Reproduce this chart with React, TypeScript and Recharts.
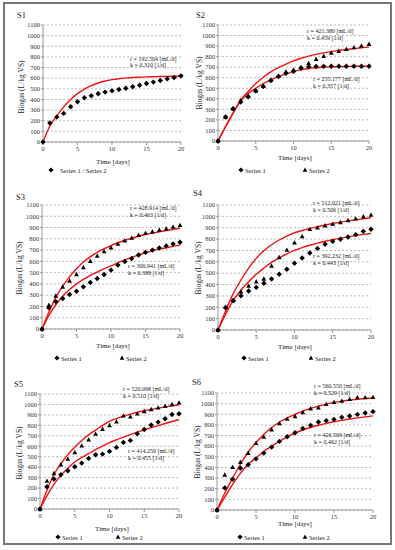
import { ComposedChart, Line, Scatter, XAxis, YAxis, CartesianGrid } from 'recharts';

const days = [0, 1, 2, 3, 4, 5, 6, 7, 8, 9, 10, 11, 12, 13, 14, 15, 16, 17, 18, 19, 20];
const xTicks = [0, 5, 10, 15, 20];
const yTicks = [0, 100, 200, 300, 400, 500, 600, 700, 800, 900, 1000, 1100];

// S1
const s1Series = [0, 178, 234, 269, 331, 378, 416, 434, 453, 469, 481, 494, 506, 519, 534, 550, 563, 578, 594, 606, 622];
const s1Fit = [0, 150, 245, 330, 400, 455, 498, 530, 555, 573, 586, 595, 601, 606, 609, 612, 614, 616, 617, 618, 619];

// S2
const s2Series1 = [0, 228, 306, 370, 420, 475, 516, 573, 611, 642, 660, 692, 703, 706, 708, 709, 709, 709, 709, 709, 709];
const s2Series2 = [0, 228, 307, 385, 427, 478, 520, 578, 615, 655, 675, 697, 737, 775, 805, 835, 852, 870, 886, 902, 918];
const s2Fit1 = [0, 135, 265, 380, 450, 500, 545, 580, 610, 635, 660, 675, 688, 695, 700, 703, 705, 707, 708, 709, 710];
const s2Fit2 = [0, 135, 265, 385, 470, 545, 605, 655, 695, 730, 760, 785, 805, 822, 836, 848, 859, 868, 876, 884, 890];

// S3
const s3Series1 = [0, 187, 243, 270, 306, 335, 374, 412, 448, 484, 522, 567, 599, 626, 656, 680, 700, 718, 736, 754, 769];
const s3Series2 = [0, 211, 294, 374, 427, 484, 546, 602, 647, 688, 721, 754, 783, 807, 831, 849, 864, 878, 890, 905, 920];
const s3Fit1 = [0, 120, 215, 290, 350, 400, 440, 475, 505, 535, 560, 588, 613, 636, 657, 676, 693, 708, 721, 733, 744];
const s3Fit2 = [0, 150, 280, 380, 465, 535, 595, 640, 680, 712, 740, 765, 787, 806, 823, 838, 851, 863, 874, 884, 894];

// S4
const s4Series1 = [0, 196, 258, 302, 343, 375, 411, 449, 490, 534, 587, 633, 677, 718, 754, 780, 798, 818, 839, 868, 886];
const s4Series2 = [0, 200, 264, 337, 387, 425, 450, 563, 639, 704, 768, 824, 886, 900, 918, 933, 947, 965, 979, 997, 1012];
const s4Fit1 = [0, 140, 260, 350, 425, 490, 545, 595, 635, 670, 700, 725, 746, 765, 781, 795, 808, 820, 831, 841, 850];
const s4Fit2 = [0, 170, 320, 440, 545, 630, 698, 750, 792, 827, 856, 876, 894, 910, 924, 937, 949, 960, 970, 979, 988];

// S5
const s5Series1 = [0, 213, 287, 328, 366, 404, 439, 484, 519, 525, 551, 589, 637, 656, 720, 761, 803, 831, 863, 904, 911];
const s5Series2 = [0, 268, 341, 424, 478, 541, 605, 662, 717, 764, 799, 834, 892, 882, 911, 933, 952, 968, 984, 1000, 1016];
const s5Fit1 = [0, 125, 235, 322, 390, 449, 493, 530, 568, 602, 635, 662, 688, 712, 735, 757, 778, 798, 818, 837, 855];
const s5Fit2 = [0, 180, 330, 430, 520, 590, 655, 710, 755, 800, 838, 865, 888, 907, 925, 940, 953, 965, 976, 987, 997];

// S6
const s6Series1 = [0, 208, 289, 393, 425, 481, 535, 591, 645, 689, 726, 767, 796, 827, 840, 852, 871, 884, 899, 912, 925];
const s6Series2 = [0, 330, 402, 450, 535, 629, 686, 755, 814, 855, 880, 918, 953, 962, 994, 1013, 1025, 1041, 1057, 1057, 1060];
const s6Fit1 = [0, 120, 240, 345, 430, 490, 550, 600, 645, 688, 724, 752, 776, 797, 815, 830, 843, 855, 866, 876, 885];
const s6Fit2 = [0, 160, 300, 430, 545, 635, 710, 775, 825, 865, 900, 930, 955, 977, 996, 1012, 1024, 1033, 1041, 1048, 1053];

const FONT = '"Liberation Serif", "Times New Roman", serif';
const RED = '#f01010';

const Diamond = (p: any) => {
  const { cx, cy } = p;
  if (cx == null || cy == null || isNaN(cy)) return null;
  return <path d={`M${cx},${cy - 2.7}L${cx + 2.7},${cy}L${cx},${cy + 2.7}L${cx - 2.7},${cy}Z`} fill="#000" />;
};

const Triangle = (p: any) => {
  const { cx, cy } = p;
  if (cx == null || cy == null || isNaN(cy)) return null;
  return <path d={`M${cx},${cy - 2.6}L${cx + 2.4},${cy + 1.8}L${cx - 2.4},${cy + 1.8}Z`} fill="#000" />;
};

type Box = { l: number; r: number; t: number; b: number };

function Panel({ box, a, b, f1, f2 }: { box: Box; a: number[]; b?: number[]; f1: number[]; f2?: number[] }) {
  const yw = 30;
  const mt = 6;
  const xh = 14;
  const mr = 6;
  const width = yw + (box.r - box.l) + mr;
  const height = mt + (box.b - box.t) + xh;
  const rows = days.map((t, i) => ({ t, a: a[i], b: b ? b[i] : null, f1: f1[i], f2: f2 ? f2[i] : null }));
  const tickStyle = { fontSize: 6.5, fontFamily: FONT, fill: '#333' };
  return (
    <div style={{ position: 'absolute', left: box.l - yw, top: box.t - mt, fontFamily: FONT }}>
      <ComposedChart width={width} height={height} data={rows} margin={{ top: mt, right: mr, left: 0, bottom: 0 }}>
        <CartesianGrid vertical={false} stroke="#bbb" strokeDasharray="2 2" />
        <XAxis
          dataKey="t"
          type="number"
          domain={[0, 20]}
          ticks={xTicks}
          interval={0}
          height={xh}
          tick={tickStyle}
          tickSize={3}
          tickMargin={1}
          stroke="#999"
        />
        <YAxis
          type="number"
          domain={[0, 1100]}
          ticks={yTicks}
          interval={0}
          width={yw}
          tick={tickStyle}
          tickSize={2}
          tickMargin={1}
          stroke="#999"
        />
        <Line dataKey="f1" type="monotone" stroke={RED} strokeWidth={1.4} dot={false} isAnimationActive={false} />
        {f2 && <Line dataKey="f2" type="monotone" stroke={RED} strokeWidth={1.4} dot={false} isAnimationActive={false} />}
        <Scatter dataKey="a" shape={Diamond} isAnimationActive={false} />
        {b && <Scatter dataKey="b" shape={Triangle} isAnimationActive={false} />}
      </ComposedChart>
    </div>
  );
}

const T = ({ x, y, s = 6, anchor = 'start', children, rot }: any) => (
  <text
    x={x}
    y={y}
    fontSize={s}
    fontFamily={FONT}
    fill="#222"
    textAnchor={anchor}
    dominantBaseline="central"
    transform={rot ? `rotate(-90 ${x} ${y})` : undefined}
  >
    {children}
  </text>
);

const D = ({ x, y }: any) => <path d={`M${x},${y - 2.6}L${x + 2.6},${y}L${x},${y + 2.6}L${x - 2.6},${y}Z`} fill="#000" />;
const Tr = ({ x, y }: any) => <path d={`M${x},${y - 2.5}L${x + 2.3},${y + 1.8}L${x - 2.3},${y + 1.8}Z`} fill="#000" />;

function Legend2({ x1, x2, y }: any) {
  return (
    <g>
      <D x={x1} y={y} />
      <T x={x1 + 4} y={y} s={6.5}>Series 1</T>
      <Tr x={x2} y={y} />
      <T x={x2 + 4} y={y} s={6.5}>Series 2</T>
    </g>
  );
}

function Ann({ x, y, r, k }: any) {
  return (
    <g>
      <T x={x} y={y}>{`r = ${r} [mL/d]`}</T>
      <T x={x} y={y + 6.5}>{`k = ${k} [1/d]`}</T>
    </g>
  );
}

export default function App() {
  return (
    <div style={{ position: 'absolute', left: 0, top: 0, width: 395, height: 550, background: '#fff', overflow: 'hidden' }}>
      <div style={{ position: 'absolute', left: 3, top: 2, width: 389, height: 543, border: '2px solid #777', boxSizing: 'border-box' }} />
      <Panel box={{ l: 43, r: 181, t: 25, b: 142 }} a={s1Series} f1={s1Fit} />
      <Panel box={{ l: 218, r: 369, t: 25, b: 141 }} a={s2Series1} b={s2Series2} f1={s2Fit1} f2={s2Fit2} />
      <Panel box={{ l: 42, r: 180, t: 205, b: 329 }} a={s3Series1} b={s3Series2} f1={s3Fit1} f2={s3Fit2} />
      <Panel box={{ l: 218, r: 371, t: 205, b: 330 }} a={s4Series1} b={s4Series2} f1={s4Fit1} f2={s4Fit2} />
      <Panel box={{ l: 40, r: 179, t: 394, b: 509 }} a={s5Series1} b={s5Series2} f1={s5Fit1} f2={s5Fit2} />
      <Panel box={{ l: 217, r: 373, t: 393, b: 510 }} a={s6Series1} b={s6Series2} f1={s6Fit1} f2={s6Fit2} />
      <svg width={395} height={550} style={{ position: 'absolute', left: 0, top: 0, pointerEvents: 'none' }}>
        <T x={17} y={15} s={8.5}>S1</T>
        <T x={196} y={15} s={8.5}>S2</T>
        <T x={16} y={197} s={8.5}>S3</T>
        <T x={193} y={193} s={8.5}>S4</T>
        <T x={14} y={384} s={8.5}>S5</T>
        <T x={192} y={382} s={8.5}>S6</T>

        <T x={21} y={87} s={7.5} anchor="middle" rot>Biogas (L/kg VS)</T>
        <T x={199} y={83} s={7.5} anchor="middle" rot>Biogas (L/kg VS)</T>
        <T x={19} y={268} s={7.5} anchor="middle" rot>Biogas (L/kg VS)</T>
        <T x={198} y={268} s={7.5} anchor="middle" rot>Biogas (L/kg VS)</T>
        <T x={19} y={453} s={7.5} anchor="middle" rot>Biogas (L/kg VS)</T>
        <T x={197} y={452} s={7.5} anchor="middle" rot>Biogas (L/kg VS)</T>

        <T x={113} y={162} s={7} anchor="middle">Time [days]</T>
        <T x={295} y={158} s={7} anchor="middle">Time [days]</T>
        <T x={113} y={346} s={7} anchor="middle">Time [days]</T>
        <T x={295} y={347} s={7} anchor="middle">Time [days]</T>
        <T x={112} y={529} s={7} anchor="middle">Time [days]</T>
        <T x={295} y={524} s={7} anchor="middle">Time [days]</T>

        <D x={51} y={170} />
        <T x={60} y={170} s={6.5}>Series 1 / Series 2</T>
        <Legend2 x1={241} x2={305} y={170} />
        <Legend2 x1={57} x2={122} y={358} />
        <Legend2 x1={244} x2={311} y={358} />
        <Legend2 x1={58} x2={118} y={537} />
        <Legend2 x1={240} x2={305} y={537} />

        <Ann x={130} y={58.5} r="192.504" k="0.310" />
        <Ann x={307} y={31} r="421.380" k="0.459" />
        <Ann x={313} y={79} r="255.177" k="0.357" />
        <Ann x={130} y={208} r="428.914" k="0.463" />
        <Ann x={128} y={266} r="300.941" k="0.388" />
        <Ann x={313} y={203} r="512.021" k="0.506" />
        <Ann x={313} y={256} r="392.232" k="0.443" />
        <Ann x={123} y={389} r="520.098" k="0.510" />
        <Ann x={128} y={451} r="414.250" k="0.455" />
        <Ann x={314} y={386} r="560.550" k="0.529" />
        <Ann x={314} y={435} r="426.509" k="0.462" />
      </svg>
    </div>
  );
}
